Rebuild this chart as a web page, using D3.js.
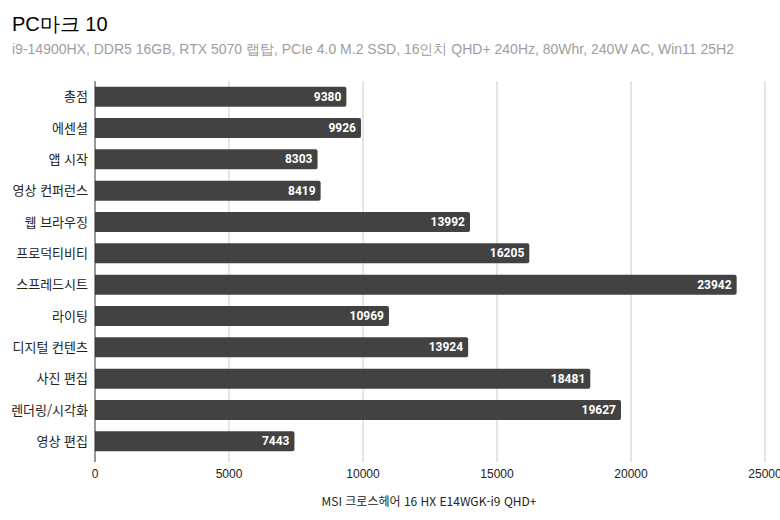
<!DOCTYPE html>
<html lang="ko">
<head>
<meta charset="UTF-8">
<title>PC마크 10</title>
<script src="https://d3js.org/d3.v7.min.js"></script>
<style>
    body { margin: 0; background: #fff; }
    .title { font: 20px "Liberation Sans", Arial, sans-serif; fill: #000; }
    .subtitle { font: 14px "Liberation Sans", Arial, sans-serif; fill: #9e9e9e; }
    .cat { font: 13px "Noto Sans CJK KR", sans-serif; fill: #222; text-anchor: end; }
    .val { font: bold 12px Roboto, sans-serif; fill: #fff; text-anchor: end; }
    .tick-label { font: 12px "Liberation Sans", Arial, sans-serif; fill: #222; text-anchor: middle; }
    .axis-title { font: 12px "Noto Sans CJK KR", sans-serif; fill: #222; text-anchor: middle; }
</style>
</head>
<body>
<svg width="780" height="520"></svg>
<script>
    const categories = ["총점", "에센셜", "앱 시작", "영상 컨퍼런스", "웹 브라우징", "프로덕티비티",
        "스프레드시트", "라이팅", "디지털 컨텐츠", "사진 편집", "렌더링/시각화", "영상 편집"];
    const scores = [9380, 9926, 8303, 8419, 13992, 16205, 23942, 10969, 13924, 18481, 19627, 7443];
    const xTicks = [0, 5000, 10000, 15000, 20000, 25000];
    const seriesName = "MSI 크로스헤어 16 HX E14WGK-i9 QHD+";

    const svg = d3.select("svg");
    const plotLeft = 95, plotRight = 765, plotTop = 81, plotBottom = 457;

    const x = d3.scaleLinear().domain([0, 25000]).range([plotLeft, plotRight]);
    const y = d3.scaleBand().domain(categories).range([plotTop, plotBottom]).paddingInner(0.36).paddingOuter(0.18);

    svg.append("text").attr("class", "title").attr("x", 12).attr("y", 31).text("PC마크 10");
    svg.append("text").attr("class", "subtitle").attr("x", 12).attr("y", 54)
        .text("i9-14900HX, DDR5 16GB, RTX 5070 랩탑, PCIe 4.0 M.2 SSD, 16인치 QHD+ 240Hz, 80Whr, 240W AC, Win11 25H2");

    // gridlines
    svg.selectAll(".grid").data(xTicks.slice(1)).enter().append("line")
        .attr("x1", d => x(d)).attr("x2", d => x(d))
        .attr("y1", plotTop).attr("y2", plotBottom + 5)
        .attr("stroke", "#cccccc").attr("stroke-width", 1);

    const bars = svg.selectAll(".bar").data(categories).enter().append("g");

    bars.append("path")
        .attr("fill", "#424242")
        .attr("d", (d, i) => {
            const x0 = x(0), x1 = x(scores[i]), y0 = y(d), h = y.bandwidth(), r = 2;
            return `M${x0},${y0}H${x1 - r}Q${x1},${y0} ${x1},${y0 + r}V${y0 + h - r}Q${x1},${y0 + h} ${x1 - r},${y0 + h}H${x0}Z`;
        });

    bars.append("text").attr("class", "val")
        .attr("x", (d, i) => x(scores[i]) - 5)
        .attr("y", d => y(d) + y.bandwidth() / 2 + 4)
        .text((d, i) => scores[i]);

    bars.append("text").attr("class", "cat")
        .attr("x", plotLeft - 7)
        .attr("y", d => y(d) + y.bandwidth() / 2 + 4.5)
        .text(d => d);

    // baseline
    svg.append("line").attr("x1", x(0)).attr("x2", x(0))
        .attr("y1", plotTop).attr("y2", plotBottom + 5)
        .attr("stroke", "#333").attr("stroke-width", 1);

    svg.selectAll(".tick-label").data(xTicks).enter().append("text")
        .attr("class", "tick-label")
        .attr("x", d => x(d)).attr("y", 478)
        .text(d => d);

    svg.append("text").attr("class", "axis-title")
        .attr("x", (plotLeft + plotRight) / 2 - 1).attr("y", 506)
        .text(seriesName);
</script>
</body>
</html>
